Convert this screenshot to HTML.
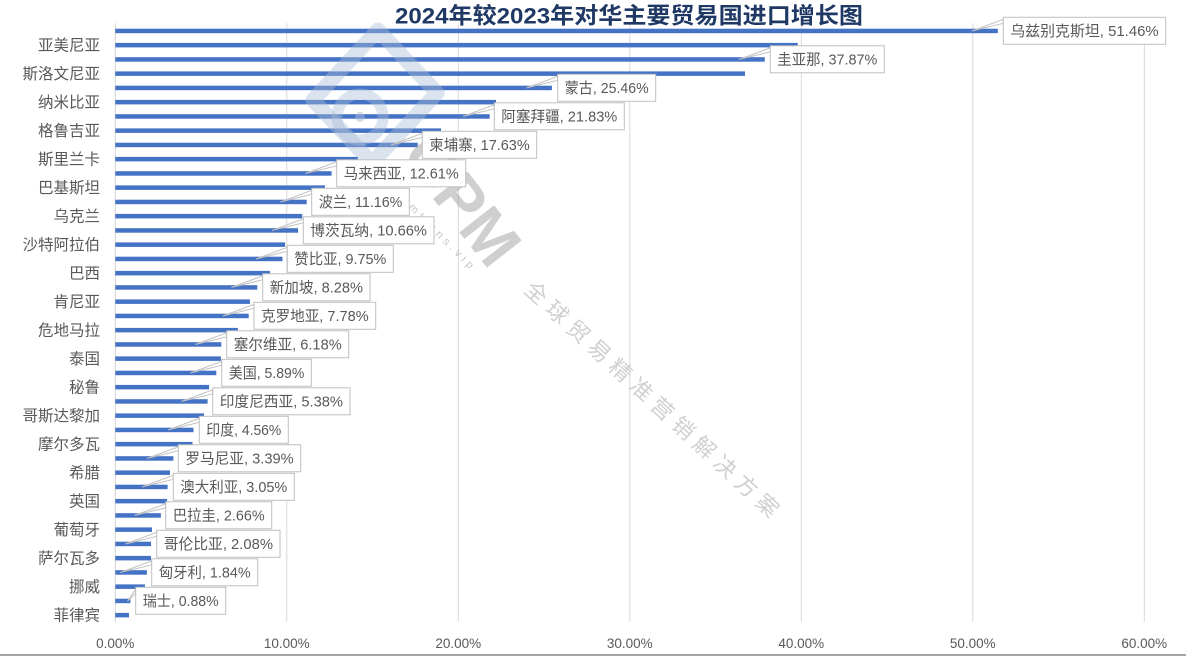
<!DOCTYPE html>
<html>
<head>
<meta charset="utf-8">
<style>
  html,body{margin:0;padding:0;background:#fff;}
  body{width:1186px;height:657px;overflow:hidden;}
  svg{display:block;}
  .yl{font-family:"Liberation Sans","Noto Sans CJK SC",sans-serif;font-size:15.5px;fill:#595959;}
  .tk{font-family:"Liberation Sans","Noto Sans CJK SC",sans-serif;font-size:13.5px;fill:#595959;}
  .lb{font-family:"Liberation Sans","Noto Sans CJK SC",sans-serif;font-size:15px;fill:#595959;}
</style>
</head>
<body>
<svg width="1186" height="657" viewBox="0 0 1186 657" xmlns="http://www.w3.org/2000/svg">
  <rect x="0" y="0" width="1186" height="657" fill="#ffffff"/>

  <!-- gridlines -->
  <g stroke="#d9d9d9" stroke-width="1">
    <line x1="286.8" y1="23.3" x2="286.8" y2="621.7"/>
    <line x1="458.3" y1="23.3" x2="458.3" y2="621.7"/>
    <line x1="629.8" y1="23.3" x2="629.8" y2="621.7"/>
    <line x1="801.3" y1="23.3" x2="801.3" y2="621.7"/>
    <line x1="972.8" y1="23.3" x2="972.8" y2="621.7"/>
    <line x1="1144.3" y1="23.3" x2="1144.3" y2="621.7"/>
  </g>
  <line x1="115.3" y1="23.3" x2="115.3" y2="621.7" stroke="#d0d0d0" stroke-width="1"/>

  <!-- bars -->
  <g fill="#4472C4">
    <rect x="115.3" y="28.7" width="882.5" height="4.5"/>
    <rect x="115.3" y="42.9" width="682.4" height="4.5"/>
    <rect x="115.3" y="57.2" width="649.5" height="4.5"/>
    <rect x="115.3" y="71.4" width="629.7" height="4.5"/>
    <rect x="115.3" y="85.7" width="436.6" height="4.5"/>
    <rect x="115.3" y="99.9" width="380.7" height="4.5"/>
    <rect x="115.3" y="114.2" width="374.4" height="4.5"/>
    <rect x="115.3" y="128.4" width="325.7" height="4.5"/>
    <rect x="115.3" y="142.7" width="302.4" height="4.5"/>
    <rect x="115.3" y="156.9" width="242.7" height="4.5"/>
    <rect x="115.3" y="171.2" width="216.3" height="4.5"/>
    <rect x="115.3" y="185.4" width="209.7" height="4.5"/>
    <rect x="115.3" y="199.7" width="191.4" height="4.5"/>
    <rect x="115.3" y="213.9" width="186.9" height="4.5"/>
    <rect x="115.3" y="228.2" width="182.8" height="4.5"/>
    <rect x="115.3" y="242.4" width="169.8" height="4.5"/>
    <rect x="115.3" y="256.7" width="167.2" height="4.5"/>
    <rect x="115.3" y="270.9" width="154.7" height="4.5"/>
    <rect x="115.3" y="285.2" width="142.0" height="4.5"/>
    <rect x="115.3" y="299.4" width="134.6" height="4.5"/>
    <rect x="115.3" y="313.7" width="133.4" height="4.5"/>
    <rect x="115.3" y="327.9" width="122.6" height="4.5"/>
    <rect x="115.3" y="342.2" width="106.0" height="4.5"/>
    <rect x="115.3" y="356.4" width="105.6" height="4.5"/>
    <rect x="115.3" y="370.7" width="101.0" height="4.5"/>
    <rect x="115.3" y="384.9" width="93.8" height="4.5"/>
    <rect x="115.3" y="399.2" width="92.3" height="4.5"/>
    <rect x="115.3" y="413.4" width="88.7" height="4.5"/>
    <rect x="115.3" y="427.7" width="78.2" height="4.5"/>
    <rect x="115.3" y="441.9" width="77.2" height="4.5"/>
    <rect x="115.3" y="456.2" width="58.1" height="4.5"/>
    <rect x="115.3" y="470.4" width="54.7" height="4.5"/>
    <rect x="115.3" y="484.7" width="52.3" height="4.5"/>
    <rect x="115.3" y="498.9" width="51.8" height="4.5"/>
    <rect x="115.3" y="513.2" width="45.6" height="4.5"/>
    <rect x="115.3" y="527.4" width="36.7" height="4.5"/>
    <rect x="115.3" y="541.7" width="35.7" height="4.5"/>
    <rect x="115.3" y="555.9" width="35.7" height="4.5"/>
    <rect x="115.3" y="570.2" width="31.6" height="4.5"/>
    <rect x="115.3" y="584.4" width="29.7" height="4.5"/>
    <rect x="115.3" y="598.7" width="15.1" height="4.5"/>
    <rect x="115.3" y="612.9" width="13.7" height="4.5"/>
  </g>

  <!-- watermark -->
  <g>
    <polygon points="378,30 313,100 372,163 437,93" fill="none" stroke="rgb(170,188,215)" stroke-opacity="0.42" stroke-width="15" stroke-linejoin="round"/>
    <circle cx="360" cy="117" r="23" fill="none" stroke="rgb(170,188,215)" stroke-opacity="0.42" stroke-width="11"/>
    <circle cx="360" cy="117" r="5" fill="rgb(170,188,215)" fill-opacity="0.5"/>
    <text x="0" y="0" transform="translate(462,200) rotate(52)" text-anchor="middle" dy="22" font-family="Liberation Sans, sans-serif" font-weight="bold" font-size="64" fill="rgb(128,128,128)" fill-opacity="0.38">GPM</text>
    <text x="0" y="0" transform="translate(436,230) rotate(45)" text-anchor="middle" dy="4" font-family="Liberation Sans, sans-serif" font-size="11" letter-spacing="4" fill="rgb(128,128,128)" fill-opacity="0.45">gpmtrans.vip</text>
    <text x="0" y="0" transform="translate(652,399) rotate(42.6)" text-anchor="middle" dy="8" font-family="'Noto Sans CJK SC', sans-serif" font-size="22" fill="#c8c8c8" fill-opacity="0.85" textLength="336" lengthAdjust="spacing">全球贸易精准营销解决方案</text>
  </g>

  <!-- y-axis labels -->
  <g class="yl" text-anchor="end">
    <text x="100" y="50.6">亚美尼亚</text>
    <text x="100" y="79.1">斯洛文尼亚</text>
    <text x="100" y="107.6">纳米比亚</text>
    <text x="100" y="136.1">格鲁吉亚</text>
    <text x="100" y="164.6">斯里兰卡</text>
    <text x="100" y="193.1">巴基斯坦</text>
    <text x="100" y="221.6">乌克兰</text>
    <text x="100" y="250.1">沙特阿拉伯</text>
    <text x="100" y="278.6">巴西</text>
    <text x="100" y="307.1">肯尼亚</text>
    <text x="100" y="335.6">危地马拉</text>
    <text x="100" y="364.1">泰国</text>
    <text x="100" y="392.6">秘鲁</text>
    <text x="100" y="421.1">哥斯达黎加</text>
    <text x="100" y="449.6">摩尔多瓦</text>
    <text x="100" y="478.1">希腊</text>
    <text x="100" y="506.6">英国</text>
    <text x="100" y="535.1">葡萄牙</text>
    <text x="100" y="563.6">萨尔瓦多</text>
    <text x="100" y="592.1">挪威</text>
    <text x="100" y="620.6">菲律宾</text>
  </g>

  <!-- x tick labels -->
  <g class="tk" text-anchor="middle">
    <text x="115.3" y="648">0.00%</text>
    <text x="286.8" y="648">10.00%</text>
    <text x="458.3" y="648">20.00%</text>
    <text x="629.8" y="648">30.00%</text>
    <text x="801.3" y="648">40.00%</text>
    <text x="972.8" y="648">50.00%</text>
    <text x="1144.3" y="648">60.00%</text>
  </g>

  <!-- leader wedges -->
  <g fill="#ffffff" stroke="#bfbfbf" stroke-width="1" stroke-linejoin="round">
    <polygon points="972.3,30.9 1003.3,19.3 1003.3,23.3"/>
    <polygon points="739.3,59.4 770.3,47.8 770.3,51.8"/>
    <polygon points="526.7,87.9 557.7,76.3 557.7,80.3"/>
    <polygon points="463.3,116.4 494.3,104.8 494.3,108.8"/>
    <polygon points="391.3,144.9 422.3,133.3 422.3,137.3"/>
    <polygon points="305.7,173.4 336.7,161.8 336.7,165.8"/>
    <polygon points="280.7,201.9 311.7,190.3 311.7,194.3"/>
    <polygon points="272.3,230.4 303.3,218.8 303.3,222.8"/>
    <polygon points="256.3,258.9 287.3,247.3 287.3,251.3"/>
    <polygon points="231.7,287.4 262.7,275.8 262.7,279.8"/>
    <polygon points="223,315.9 254,304.3 254,308.3"/>
    <polygon points="195.7,344.4 226.7,332.8 226.7,336.8"/>
    <polygon points="190.7,372.9 221.7,361.3 221.7,365.3"/>
    <polygon points="181.7,401.4 212.7,389.8 212.7,393.8"/>
    <polygon points="168.3,429.9 199.3,418.3 199.3,422.3"/>
    <polygon points="147.3,458.4 178.3,446.8 178.3,450.8"/>
    <polygon points="142.3,486.9 173.3,475.3 173.3,479.3"/>
    <polygon points="134.7,515.4 165.7,503.8 165.7,507.8"/>
    <polygon points="125.7,543.9 156.7,532.3 156.7,536.3"/>
    <polygon points="120.7,572.4 151.7,560.8 151.7,564.8"/>
    <polygon points="127.7,600.9 135.7,589.3 135.7,593.3"/>
  </g>

  <!-- label boxes -->
  <g fill="#ffffff" stroke="#bfbfbf" stroke-width="1">
    <rect x="1003.3" y="17.3" width="162.4" height="27"/>
    <rect x="770.3" y="45.8" width="114" height="27"/>
    <rect x="557.7" y="74.3" width="98" height="27"/>
    <rect x="494.3" y="102.8" width="130" height="27"/>
    <rect x="422.3" y="131.3" width="114.4" height="27"/>
    <rect x="336.7" y="159.8" width="129" height="27"/>
    <rect x="311.7" y="188.3" width="97.6" height="27"/>
    <rect x="303.3" y="216.8" width="130.7" height="27"/>
    <rect x="287.3" y="245.3" width="106" height="27"/>
    <rect x="262.7" y="273.8" width="107.3" height="27"/>
    <rect x="254" y="302.3" width="121.7" height="27"/>
    <rect x="226.7" y="330.8" width="122" height="27"/>
    <rect x="221.7" y="359.3" width="89.6" height="27"/>
    <rect x="212.7" y="387.8" width="137.3" height="27"/>
    <rect x="199.3" y="416.3" width="89" height="27"/>
    <rect x="178.3" y="444.8" width="122.4" height="27"/>
    <rect x="173.3" y="473.3" width="121" height="27"/>
    <rect x="165.7" y="501.8" width="106" height="27"/>
    <rect x="156.7" y="530.3" width="123.3" height="27"/>
    <rect x="151.7" y="558.8" width="106" height="27"/>
    <rect x="135.7" y="587.3" width="90" height="27"/>
  </g>

  <!-- label texts -->
  <g class="lb">
    <text x="1010.3" y="35.8" textLength="148.4" lengthAdjust="spacingAndGlyphs">乌兹别克斯坦, 51.46%</text>
    <text x="777.3" y="64.3" textLength="100" lengthAdjust="spacingAndGlyphs">圭亚那, 37.87%</text>
    <text x="564.7" y="92.8" textLength="84" lengthAdjust="spacingAndGlyphs">蒙古, 25.46%</text>
    <text x="501.3" y="121.3" textLength="116" lengthAdjust="spacingAndGlyphs">阿塞拜疆, 21.83%</text>
    <text x="429.3" y="149.8" textLength="100.4" lengthAdjust="spacingAndGlyphs">柬埔寨, 17.63%</text>
    <text x="343.7" y="178.3" textLength="115" lengthAdjust="spacingAndGlyphs">马来西亚, 12.61%</text>
    <text x="318.7" y="206.8" textLength="83.6" lengthAdjust="spacingAndGlyphs">波兰, 11.16%</text>
    <text x="310.3" y="235.3" textLength="116.7" lengthAdjust="spacingAndGlyphs">博茨瓦纳, 10.66%</text>
    <text x="294.3" y="263.8" textLength="92" lengthAdjust="spacingAndGlyphs">赞比亚, 9.75%</text>
    <text x="269.7" y="292.3" textLength="93.3" lengthAdjust="spacingAndGlyphs">新加坡, 8.28%</text>
    <text x="261" y="320.8" textLength="107.7" lengthAdjust="spacingAndGlyphs">克罗地亚, 7.78%</text>
    <text x="233.7" y="349.3" textLength="108" lengthAdjust="spacingAndGlyphs">塞尔维亚, 6.18%</text>
    <text x="228.7" y="377.8" textLength="75.6" lengthAdjust="spacingAndGlyphs">美国, 5.89%</text>
    <text x="219.7" y="406.3" textLength="123.3" lengthAdjust="spacingAndGlyphs">印度尼西亚, 5.38%</text>
    <text x="206.3" y="434.8" textLength="75" lengthAdjust="spacingAndGlyphs">印度, 4.56%</text>
    <text x="185.3" y="463.3" textLength="108.4" lengthAdjust="spacingAndGlyphs">罗马尼亚, 3.39%</text>
    <text x="180.3" y="491.8" textLength="107" lengthAdjust="spacingAndGlyphs">澳大利亚, 3.05%</text>
    <text x="172.7" y="520.3" textLength="92" lengthAdjust="spacingAndGlyphs">巴拉圭, 2.66%</text>
    <text x="163.7" y="548.8" textLength="109.3" lengthAdjust="spacingAndGlyphs">哥伦比亚, 2.08%</text>
    <text x="158.7" y="577.3" textLength="92" lengthAdjust="spacingAndGlyphs">匈牙利, 1.84%</text>
    <text x="142.7" y="605.8" textLength="76" lengthAdjust="spacingAndGlyphs">瑞士, 0.88%</text>
  </g>

  <!-- title -->
  <text x="395" y="23.5" font-family="Liberation Sans, 'Noto Sans CJK SC', sans-serif" font-weight="bold" font-size="22.5" fill="#1F3864" textLength="468" lengthAdjust="spacingAndGlyphs">2024年较2023年对华主要贸易国进口增长图</text>

  <!-- bottom border -->
  <rect x="0" y="654" width="1186" height="2" fill="#a6a6a6"/>
</svg>
</body>
</html>
